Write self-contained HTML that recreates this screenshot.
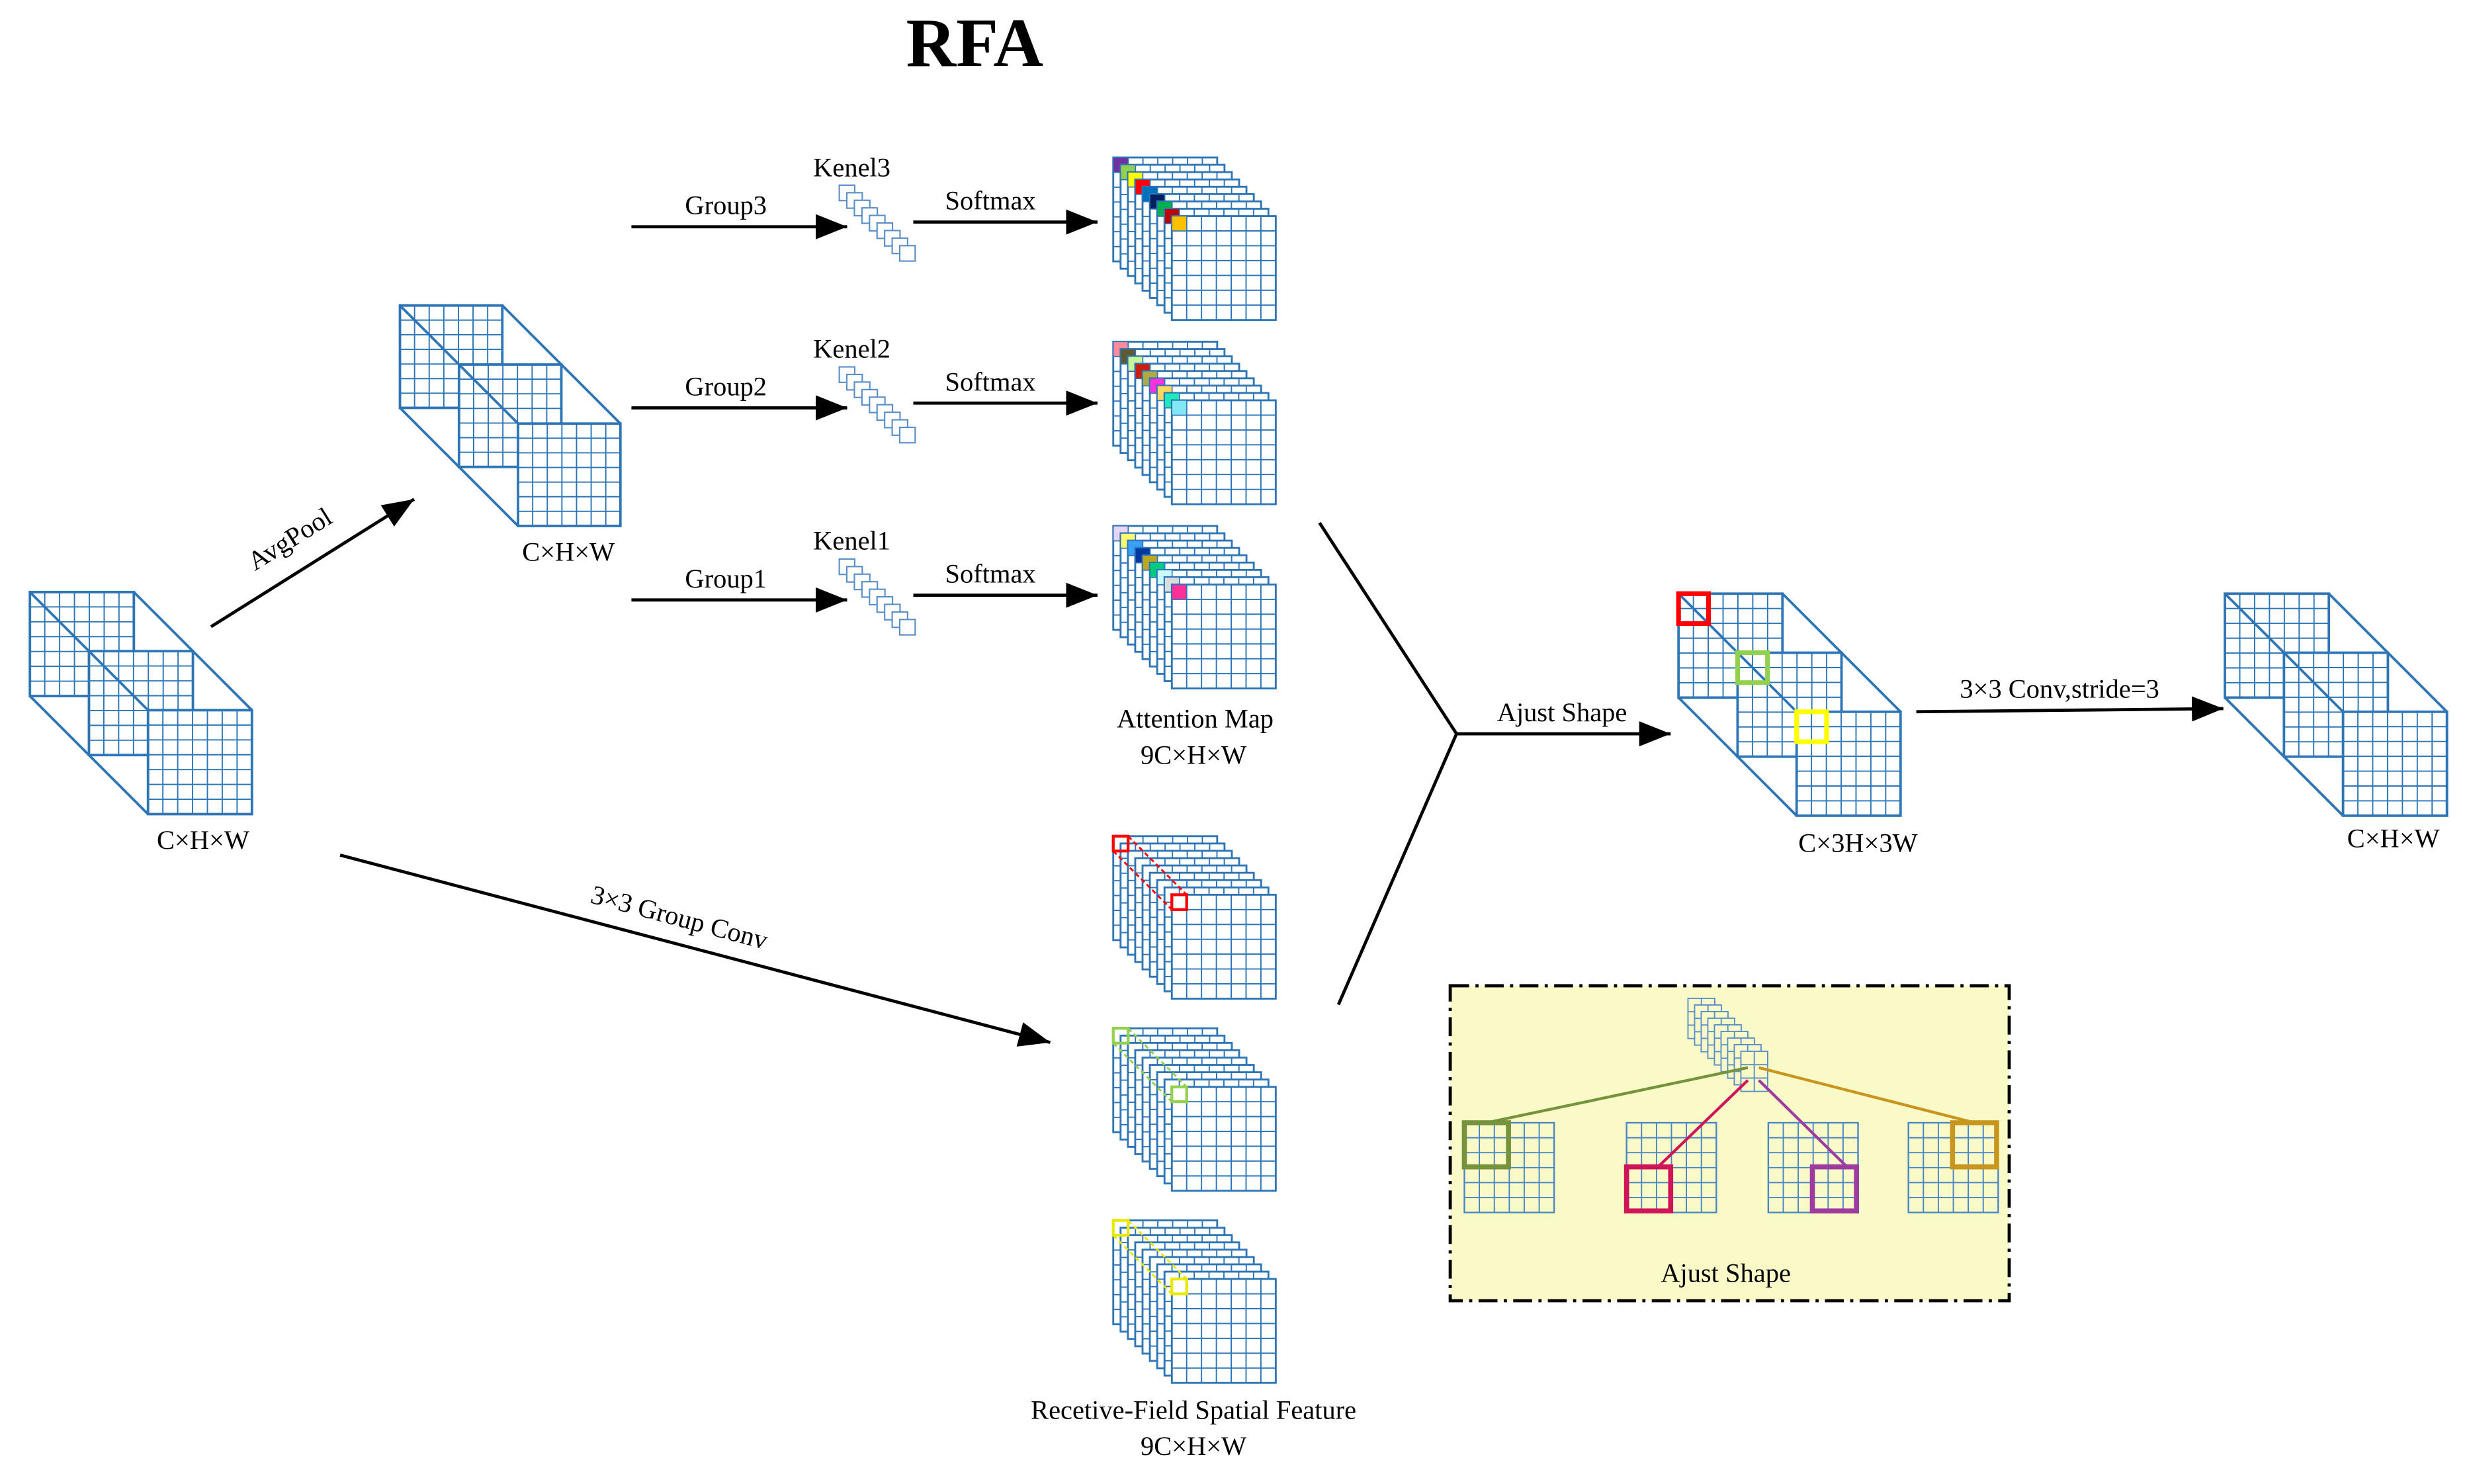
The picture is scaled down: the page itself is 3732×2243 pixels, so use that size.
<!DOCTYPE html>
<html><head><meta charset="utf-8"><style>
html,body{margin:0;padding:0;background:#fff;}
svg{display:block;}
svg text{font-family:"Liberation Serif","Times New Roman",serif !important;fill:#000;}
</style></head><body>
<svg id="s" width="3732" height="2243" viewBox="0 0 1568 942.4" xmlns="http://www.w3.org/2000/svg" font-family="Liberation Serif, serif">
<defs>
<marker id="ab" viewBox="0 0 20 16" refX="20" refY="8" markerWidth="20" markerHeight="16" markerUnits="userSpaceOnUse" orient="auto"><path d="M0,0 L20,8 L0,16 z" fill="#000"/></marker>
</defs>
<g id="g"></g>
<text x="619" y="42" font-size="44" font-weight="bold" text-anchor="middle" font-family="Liberation Serif, serif">RFA</text>
<g font-size="17" text-anchor="middle" font-family="Liberation Serif, serif">
<text x="129" y="539">C×H×W</text>
<text x="361" y="356">C×H×W</text>
<text x="1180" y="541">C×3H×3W</text>
<text x="1520" y="538">C×H×W</text>
<text x="461" y="136">Group3</text>
<text x="461" y="251">Group2</text>
<text x="461" y="373">Group1</text>
<text x="541" y="112">Kenel3</text>
<text x="541" y="227">Kenel2</text>
<text x="541" y="349">Kenel1</text>
<text x="629" y="133">Softmax</text>
<text x="629" y="248">Softmax</text>
<text x="629" y="370">Softmax</text>
<text x="759" y="462">Attention Map</text>
<text x="758" y="485">9C×H×W</text>
<text x="758" y="901">Recetive-Field Spatial Feature</text>
<text x="758" y="924">9C×H×W</text>
<text x="992" y="458">Ajust Shape</text>
<text x="1308" y="443">3×3 Conv,stride=3</text>
<text transform="translate(187,347) rotate(-32)">AvgPool</text>
<text transform="translate(430,588) rotate(15)">3×3 Group Conv</text>
</g>
</svg>
<script>
const NS="http://www.w3.org/2000/svg";
const G=document.getElementById('g');
function el(t,a){const e=document.createElementNS(NS,t);for(const k in a)e.setAttribute(k,a[k]);G.appendChild(e);return e;}
const B="#2e75b6";
function grid(x,y,s,n,m,sw,fill,col){
  m=m||n;const w=s,h=s*m/n;
  el('rect',{x,y,width:w,height:h,fill:fill||'#fff',stroke:col||B,'stroke-width':sw||1.6});
  for(let i=1;i<n;i++)el('line',{x1:x+i*w/n,y1:y,x2:x+i*w/n,y2:y+h,stroke:col||B,'stroke-width':0.8});
  for(let j=1;j<m;j++)el('line',{x1:x,y1:y+j*h/m,x2:x+w,y2:y+j*h/m,stroke:col||B,'stroke-width':0.8});
}
function cube(x,y,s,d){
  el('line',{x1:x+s,y1:y,x2:x+s+2*d,y2:y+2*d,stroke:B,'stroke-width':1.6});
  el('line',{x1:x,y1:y+s,x2:x+2*d,y2:y+s+2*d,stroke:B,'stroke-width':1.6});
  grid(x,y,s,7);grid(x+d,y+d,s,7);
  el('line',{x1:x,y1:y,x2:x+2*d,y2:y+2*d,stroke:B,'stroke-width':1.6});
  grid(x+2*d,y+2*d,s,7);
}
cube(19,376,66,37.5);
cube(254,194,65,37.5);
cube(1066,377,66,37.5);
cube(1413,377,66,37.5);
el('rect',{x:1066,y:377,width:19,height:19,fill:'none',stroke:'#f00','stroke-width':3});
el('rect',{x:1103.5,y:414.5,width:19,height:19,fill:'none',stroke:'#92d050','stroke-width':3});
el('rect',{x:1141,y:452,width:19,height:19,fill:'none',stroke:'#ff0','stroke-width':3});
function stack(x,y,colors,dash){
  const st=4.65,s=66;
  for(let i=0;i<9;i++){
    grid(x+i*st,y+i*st,s,7,7,1.2);
    if(colors&&colors[i])el('rect',{x:x+i*st,y:y+i*st,width:s/7,height:s/7,fill:colors[i],stroke:B,'stroke-width':0.6});
  }
  if(dash){
    const c=s/7;
    el('rect',{x,y,width:c,height:c,fill:'none',stroke:dash,'stroke-width':1.8});
    el('rect',{x:x+8*st,y:y+8*st,width:c,height:c,fill:'none',stroke:dash,'stroke-width':1.8});
    el('line',{x1:x+c,y1:y,x2:x+8*st+c,y2:y+8*st,stroke:dash,'stroke-width':1.2,'stroke-dasharray':'3,2'});
    el('line',{x1:x,y1:y+c,x2:x+8*st,y2:y+8*st+c,stroke:dash,'stroke-width':1.2,'stroke-dasharray':'3,2'});
  }
}
stack(707,100,['#7030a0','#92d050','#ffff00','#ff0000','#0070c0','#002060','#00b050','#c00000','#ffc000']);
stack(707,217,['#ff8aa0','#5f5a30','#c8f59a','#c8200f','#b0aa45','#ff30e0','#ffd860','#20e8b8','#80e8f5']);
stack(707,334,['#e8d4f5','#fff870','#38a0f8','#0038a0','#bca820','#00cc80','#c8fcfc','#dcdcdc','#ff3098']);
stack(707,531,null,'#f00');
stack(707,653,null,'#92d050');
stack(707,775,null,'#e8e800');
function kern(x,y){for(let i=0;i<9;i++)el('rect',{x:x+i*4.8,y:y+i*4.8,width:9.8,height:9.8,fill:'#fff',stroke:'#5b8fc8','stroke-width':0.9});}
kern(533,117.6);kern(533,233);kern(533,355);
function arr(x1,y1,x2,y2){el('line',{x1,y1,x2,y2,stroke:'#000','stroke-width':2,'marker-end':'url(#ab)'});}
arr(401,144,538,144);arr(580,141,697,141);
arr(401,259,538,259);arr(580,256,697,256);
arr(401,381,538,381);arr(580,378,697,378);
arr(134,398,263,317);
arr(216,543,667,662);
el('polyline',{points:'838,332 925,466 850,638',fill:'none',stroke:'#000','stroke-width':2});
arr(925,466,1061,466);
arr(1217,452,1412,450);
el('rect',{x:921,y:626,width:355,height:200,fill:'#fafac8',stroke:'#000','stroke-width':2,'stroke-dasharray':'12,4,2,4'});
for(let i=0;i<9;i++)grid(1072+i*4.2,634+i*4.2,17,2,3,0.8,'#fafac8','#5b8fc8');
const gx=[930,1033,1123,1212];
gx.forEach(x=>grid(x,713,57,6,6,1,'#fafac8','#4a86c6'));
const hl=[[930,713,'#76923c',1110,678],[1033,741,'#d0145a',1110,686],[1151,741,'#9e3ba0',1117,686],[1240,713,'#c8961e',1117,678]];
hl.forEach(([x,y,c,lx,ly],i)=>{
  const tx=(i==0)?x+14:(i==3)?x+14:(i==1?x+20:x+22);
  el('line',{x1:lx,y1:ly,x2:tx,y2:y,stroke:c,'stroke-width':1.8});
  el('rect',{x,y,width:28,height:28,fill:'none',stroke:c,'stroke-width':3.2});
});
const t=document.createElementNS(NS,'text');t.setAttribute('x',1096);t.setAttribute('y',814);t.setAttribute('font-size',17);t.setAttribute('text-anchor','middle');t.setAttribute('font-family','Liberation Serif, serif');t.textContent='Ajust Shape';document.getElementById('s').appendChild(t);
</script>
</body></html>
